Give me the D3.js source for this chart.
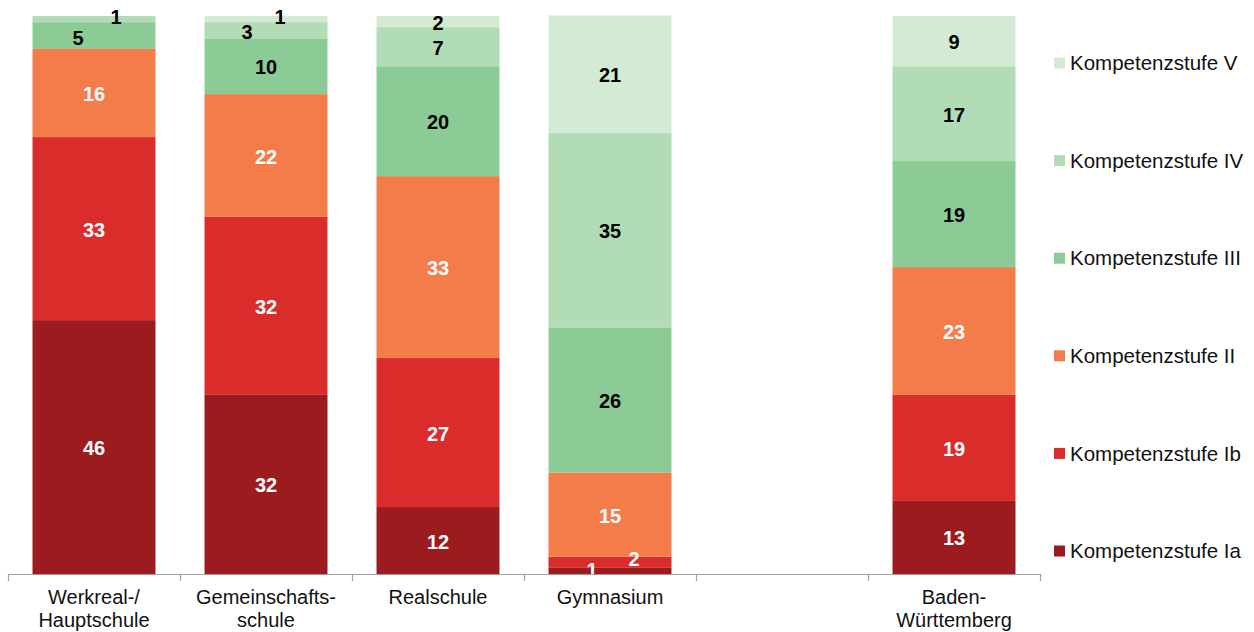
<!DOCTYPE html>
<html>
<head>
<meta charset="utf-8">
<script src="https://cdn.jsdelivr.net/npm/d3@7"></script>
<style>
  body { margin: 0; background: #fff; }
  svg { display: block; font-family: "Liberation Sans", Arial, sans-serif; }
</style>
</head>
<body>
<svg id="chart" width="1254" height="632"></svg>
<script>
// categories ('' = empty slot between Gymnasium and the state total)
const categories = ['Werkreal-/Hauptschule', 'Gemeinschaftsschule', 'Realschule', 'Gymnasium', '', 'Baden-Württemberg'];
const tickLabels = [['Werkreal-/', 'Hauptschule'], ['Gemeinschafts-', 'schule'], ['Realschule'], ['Gymnasium'], [], ['Baden-', 'Württemberg']];
const levels = ['Kompetenzstufe Ia', 'Kompetenzstufe Ib', 'Kompetenzstufe II', 'Kompetenzstufe III', 'Kompetenzstufe IV', 'Kompetenzstufe V'];

// percentages per level, one value per category
const stufeIa  = [45.5, 32.1, 12.0,  1.1, 0, 13.1];
const stufeIb  = [32.8, 31.9, 26.7,  2.0, 0, 19.0];
const stufeII  = [15.8, 22.0, 32.6, 15.1, 0, 22.9];
const stufeIII = [ 4.8, 10.0, 19.7, 26.0, 0, 19.0];
const stufeIV  = [ 1.1,  2.9,  7.0, 34.9, 0, 17.0];
const stufeV   = [ 0.0,  1.1,  2.0, 21.0, 0,  9.0];

const colors = ['#9b1b1f', '#d92c2b', '#f47c4b', '#8bcc96', '#b2dcb6', '#d3ebd4'];
const labelColors = ['#fff', '#fff', '#fff', '#000', '#000', '#000'];

const series = [stufeIa, stufeIb, stufeII, stufeIII, stufeIV, stufeV];
const rows = categories.map((c, i) => {
  const r = { cat: i };
  levels.forEach((l, j) => r[l] = series[j][i]);
  return r;
});

const svg = d3.select('#chart');

const x = d3.scaleBand()
    .domain(d3.range(categories.length))
    .range([8, 1040])
    .paddingInner(0.285)
    .paddingOuter(0.1425);

const y = d3.scaleLinear().domain([0, 100]).range([574, 16]);

const stacked = d3.stack().keys(levels)(rows);

// bars
stacked.forEach((layer, j) => {
  svg.append('g')
    .selectAll('rect')
    .data(layer.filter(d => categories[d.data.cat] !== '' && d[1] > d[0]))
    .join('rect')
      .attr('x', d => x(d.data.cat))
      .attr('y', d => y(d[1]))
      .attr('width', x.bandwidth())
      .attr('height', d => y(d[0]) - y(d[1]))
      .attr('fill', colors[j]);
});

// small segments get their labels pushed sideways like in the original
const nudge = {
  '0|3': [-16, 1], '0|4': [22, -3],
  '1|4': [-19, 1], '1|5': [14, -3],
  '3|0': [-18, -2], '3|1': [24, -4]
};

stacked.forEach((layer, j) => {
  svg.append('g')
    .selectAll('text')
    .data(layer.filter(d => categories[d.data.cat] !== '' && d[1] > d[0]))
    .join('text')
      .attr('x', d => x(d.data.cat) + x.bandwidth() / 2 + (nudge[d.data.cat + '|' + j] || [0, 0])[0])
      .attr('y', d => (y(d[0]) + y(d[1])) / 2 + 1 + (nudge[d.data.cat + '|' + j] || [0, 0])[1])
      .attr('dy', '0.35em')
      .attr('text-anchor', 'middle')
      .attr('font-size', 20)
      .attr('font-weight', 'bold')
      .attr('fill', labelColors[j])
      .text(d => Math.round(d[1] - d[0]));
});

// axis line + ticks at category boundaries
const axis = svg.append('g');
axis.append('line')
    .attr('x1', 8).attr('x2', 1040)
    .attr('y1', 574.5).attr('y2', 574.5)
    .attr('stroke', '#a0a0a0').attr('stroke-width', 1.2);
const gap = x.step() * x.paddingInner() / 2;
const bounds = categories.map((c, i) => x(i) - gap).concat([x(categories.length - 1) + x.bandwidth() + gap]);
axis.selectAll('.tick')
  .data(bounds)
  .join('line')
    .attr('x1', d => Math.round(d) + 0.5).attr('x2', d => Math.round(d) + 0.5)
    .attr('y1', 574).attr('y2', 581)
    .attr('stroke', '#a0a0a0').attr('stroke-width', 1.2);

tickLabels.forEach((lines, i) => {
  lines.forEach((t, k) => {
    axis.append('text')
        .attr('x', x(i) + x.bandwidth() / 2)
        .attr('y', 604 + k * 23)
        .attr('text-anchor', 'middle')
        .attr('font-size', 20)
        .attr('fill', '#111')
        .text(t);
  });
});

// legend, top = level V
const legendY = d3.scaleLinear().domain([0, 5]).range([551, 63]);
const legend = svg.append('g');
levels.forEach((l, j) => {
  const cy = legendY(j);
  legend.append('rect')
      .attr('x', 1054).attr('y', cy - 5.5)
      .attr('width', 11).attr('height', 11)
      .attr('fill', colors[j]);
  legend.append('text')
      .attr('x', 1070).attr('y', cy)
      .attr('dy', '0.35em')
      .attr('font-size', 20.5)
      .attr('fill', '#111')
      .text(l);
});
</script>
</body>
</html>
